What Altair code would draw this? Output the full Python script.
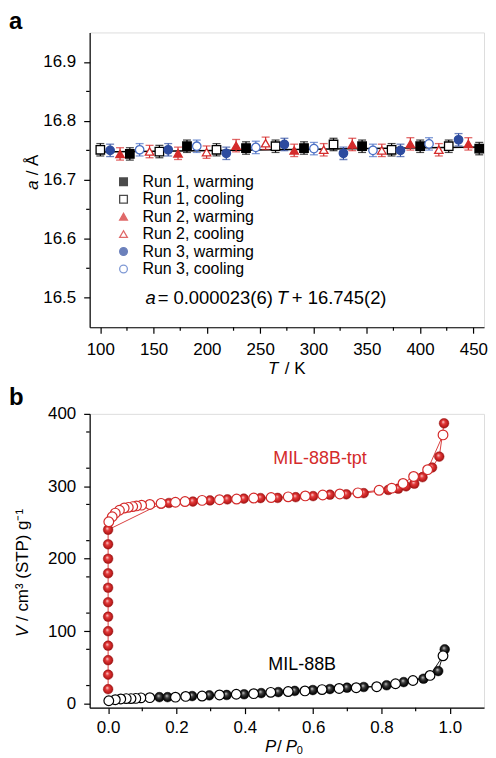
import altair as alt
import pandas as pd

FONT = "Liberation Sans"
RED = "#d42b2b"
BLUE = "#2d4b9f"
BLUE2 = "#4a6fc4"

# ---------------- panel a data ----------------
series_names = ["Run 1, warming", "Run 1, cooling", "Run 2, warming",
                "Run 2, cooling", "Run 3, warming", "Run  3, cooling"]
series_shapes = ["square", "square", "triangle-up", "triangle-up", "circle", "circle"]
series_strokes = ["black", "black", RED, RED, BLUE, BLUE2]
series_fills = ["black", "white", RED, "white", BLUE, "white"]

r1w_T = [127.7, 181.3, 236.7, 291.1, 345.6, 400.1, 455.5]
r1w_a = [16.744, 16.757, 16.754, 16.754, 16.757, 16.757, 16.753]
r1c_T = [100.0, 155.4, 209.0, 264.4, 318.8, 373.3, 426.9]
r1c_a = [16.751, 16.748, 16.751, 16.757, 16.760, 16.751, 16.757]
r2w_T = [118.5, 172.9, 227.4, 281.9, 336.4, 390.9, 445.3]
r2w_a = [16.744, 16.745, 16.758, 16.750, 16.760, 16.761, 16.761]
r2c_T = [146.2, 199.7, 255.1, 309.6, 364.1, 417.6]
r2c_a = [16.748, 16.747, 16.762, 16.751, 16.750, 16.751]
r3w_T = [109.2, 163.7, 218.2, 272.7, 328.1, 381.6, 436.1]
r3w_a = [16.750, 16.751, 16.745, 16.760, 16.745, 16.750, 16.768]
r3c_T = [136.9, 190.5, 245.9, 300.4, 355.8, 408.4]
r3c_a = [16.751, 16.757, 16.755, 16.753, 16.750, 16.761]
a_err = 0.0105

fit_T = [96, 460]
fit_a = [16.7472, 16.7556]

a_xticks = [100, 150, 200, 250, 300, 350, 400, 450]
a_xminor = [125, 175, 225, 275, 325, 375, 425]
a_yticks = [16.5, 16.6, 16.7, 16.8, 16.9]
a_yminor = [16.55, 16.65, 16.75, 16.85]

eq_parts = ["a", "= 0.000023(6)", "T", "+ 16.745(2)"]
eq_T = [142.3, 153.8, 265.6, 279.7]
eq_a = [16.5, 16.5, 16.5, 16.5]
eq_italic = [True, False, True, False]

# ---------------- panel b data ----------------
tpt_ads_P = [0, 0, 0, 0, 0, 0, 0, 0, 0, 0, 0, 0,
             0.155, 0.178, 0.248, 0.298, 0.349, 0.397, 0.446, 0.496, 0.549, 0.600,
             0.649, 0.697, 0.748, 0.820, 0.849, 0.872, 0.896, 0.920, 0.948, 0.969, 0.983]
tpt_ads_V = [20, 40, 60, 80, 100, 120, 140, 160, 180, 200, 220, 240,
             276, 277, 279, 280.5, 282, 283, 283.8, 284, 285, 286.5,
             288.4, 289, 290.6, 295, 296.7, 300, 303.6, 312.6, 326, 341, 387]
tpt_des_P = [0.980, 0.935, 0.894, 0.863, 0.830, 0.793, 0.731, 0.678, 0.628, 0.577,
             0.527, 0.477, 0.426, 0.376, 0.326, 0.275, 0.225, 0.197, 0.155, 0.122,
             0.098, 0.083, 0.072, 0.059, 0.047, 0.033, 0.021, 0.012, 0.002]
tpt_des_V = [371, 323, 313.6, 304, 297.5, 294.5, 291, 289.5, 288, 286.8,
             285.5, 284.5, 283.8, 282.4, 281.5, 280.6, 279, 278, 276.5, 275,
             274, 273, 272, 271, 270, 267, 263, 258, 251]
b88_ads_P = [0.150, 0.174, 0.246, 0.296, 0.347, 0.398, 0.448, 0.498, 0.546, 0.599,
             0.649, 0.699, 0.748, 0.815, 0.865, 0.923, 0.966, 0.985]
b88_ads_V = [9, 9, 10.5, 11.5, 12, 13, 14.6, 16, 17.6, 18.8,
             20.2, 22, 23, 25.4, 29.8, 34.4, 45, 75]
b88_des_P = [0.980, 0.942, 0.892, 0.841, 0.786, 0.726, 0.676, 0.626, 0.576, 0.527,
             0.476, 0.426, 0.375, 0.326, 0.275, 0.227, 0.197, 0.122, 0.096, 0.081,
             0.067, 0.053, 0.037, 0.021, 0.002]
b88_des_V = [66, 39, 32, 27.5, 23.4, 22, 21, 19.4, 17.6, 16.7,
             15.6, 13.8, 13, 12, 10.5, 10, 9, 8.3, 8, 7.3,
             7, 7, 6.5, 5.5, 4]

b_xticks = [0.0, 0.2, 0.4, 0.6, 0.8, 1.0]
b_xminor = [0.1, 0.3, 0.5, 0.7, 0.9]
b_yticks = [0, 50, 100, 150, 200, 250, 300, 350, 400]
b_yminor = [25, 75, 125, 175, 225, 275, 325, 375]

lab_text = ["MIL-88B-tpt", "MIL-88B"]
lab_P = [0.62, 0.568]
lab_V = [337, 53.6]
lab_col = [RED, "black"]

# axis-title pieces (text, italic, font size)
ta_x_parts = [("T", True, 17), ("/ K", False, 17)]
ta_y_parts = [("a", True, 17), ("/ Å", False, 17)]
tb_x_parts = [("P", True, 17), ("/", False, 17), ("P", True, 17), ("0", False, 11)]
tb_y_parts = [("V", True, 17), ("/ cm³ (STP) g⁻¹", False, 17)]

# ---------------- build tables ----------------
rows = []
err_col = {"Run 1, warming": "black", "Run 1, cooling": "black",
           "Run 2, warming": RED, "Run 2, cooling": RED,
           "Run 3, warming": BLUE, "Run  3, cooling": BLUE2}
for name, Ts, As in zip(series_names,
                        [r1w_T, r1c_T, r2w_T, r2c_T, r3w_T, r3c_T],
                        [r1w_a, r1c_a, r2w_a, r2c_a, r3w_a, r3c_a]):
    for t, a in zip(Ts, As):
        rows.append({"T": t, "a": a, "series": name, "lo": a - a_err,
                     "hi": a + a_err, "ecol": err_col[name]})
dfa = pd.DataFrame(rows)

W = 396
HA = 296
HB = 295

xa = alt.Scale(domain=[90, 460], nice=False, zero=False)
ya = alt.Scale(domain=[16.45, 16.95], nice=False, zero=False)

axis_common = dict(grid=False, domainColor="black", tickColor="black", domainWidth=1.2,
                   tickWidth=1.2, tickSize=6, labelFontSize=17, labelColor="black",
                   labelFont=FONT, title=None)

xa_axis = alt.Axis(values=a_xticks, labelPadding=8, **axis_common)
ya_axis = alt.Axis(values=a_yticks, labelPadding=8, format=".1f", **axis_common)


def title_piece(text, italic, size, x, y, angle=0, dy=0):
    kw = dict(align="left", baseline="middle", fontSize=size, font=FONT, color="black",
              fontStyle="italic" if italic else "normal", dy=dy)
    if angle:
        kw["angle"] = angle
    return alt.Chart(pd.DataFrame({"t": [text]})).mark_text(**kw).encode(
        text="t:N", x=alt.value(x), y=alt.value(y))


base_a = alt.Chart(dfa)

fit_line = alt.Chart(pd.DataFrame({"T": fit_T, "a": fit_a})).mark_line(
    color="black", strokeWidth=1.4).encode(
    x=alt.X("T:Q", scale=xa, axis=xa_axis),
    y=alt.Y("a:Q", scale=ya, axis=ya_axis))

err_rule = base_a.mark_rule(strokeWidth=1.2).encode(
    x=alt.X("T:Q", scale=xa), y=alt.Y("lo:Q", scale=ya), y2="hi:Q",
    color=alt.Color("ecol:N", scale=None))
cap_lo = base_a.mark_tick(orient="horizontal", size=8, thickness=1.3).encode(
    x=alt.X("T:Q", scale=xa), y=alt.Y("lo:Q", scale=ya),
    color=alt.Color("ecol:N", scale=None))
cap_hi = base_a.mark_tick(orient="horizontal", size=8, thickness=1.3).encode(
    x=alt.X("T:Q", scale=xa), y=alt.Y("hi:Q", scale=ya),
    color=alt.Color("ecol:N", scale=None))

leg = alt.Legend(title=None, orient="none", legendX=26, legendY=142, labelFontSize=16,
                 labelFont=FONT, labelColor="black", symbolSize=60, symbolStrokeWidth=1.3,
                 labelOffset=11, rowPadding=1.5, padding=0, symbolOpacity=1)

pts_a = base_a.mark_point(filled=False, size=72, strokeWidth=1.3, opacity=1).encode(
    x=alt.X("T:Q", scale=xa), y=alt.Y("a:Q", scale=ya),
    shape=alt.Shape("series:N", scale=alt.Scale(domain=series_names, range=series_shapes), legend=leg),
    color=alt.Color("series:N", scale=alt.Scale(domain=series_names, range=series_strokes), legend=leg),
    fill=alt.Fill("series:N", scale=alt.Scale(domain=series_names, range=series_fills), legend=leg))

minor_ax = alt.Chart(pd.DataFrame({"m": a_xminor})).mark_rule(color="black", strokeWidth=1.2).encode(
    x=alt.X("m:Q", scale=xa), y=alt.value(HA), y2=alt.value(HA + 3.5))
minor_ay = alt.Chart(pd.DataFrame({"m": a_yminor})).mark_rule(color="black", strokeWidth=1.2).encode(
    y=alt.Y("m:Q", scale=ya), x=alt.value(0), x2=alt.value(-3.5))

dfeq = pd.DataFrame({"txt": eq_parts, "T": eq_T, "a": eq_a, "it": eq_italic})
eq_it = alt.Chart(dfeq).transform_filter("datum.it").mark_text(
    align="left", baseline="middle", fontSize=18.5, fontStyle="italic", font=FONT, color="black").encode(
    x=alt.X("T:Q", scale=xa), y=alt.Y("a:Q", scale=ya), text="txt:N")
eq_nm = alt.Chart(dfeq).transform_filter("!datum.it").mark_text(
    align="left", baseline="middle", fontSize=18.5, font=FONT, color="black").encode(
    x=alt.X("T:Q", scale=xa), y=alt.Y("a:Q", scale=ya), text="txt:N")

lab_a = alt.Chart(pd.DataFrame({"t": ["a"]})).mark_text(
    align="left", baseline="top", fontSize=24, fontWeight="bold", font=FONT, color="black").encode(
    text="t:N", x=alt.value(-81), y=alt.value(-22))

# axis titles built from pieces
ta_title = [
    title_piece(ta_x_parts[0][0], ta_x_parts[0][1], ta_x_parts[0][2], 179, HA + 42),
    title_piece(ta_x_parts[1][0], ta_x_parts[1][1], ta_x_parts[1][2], 196, HA + 42),
    title_piece(ta_y_parts[0][0], ta_y_parts[0][1], ta_y_parts[0][2], -57, 158, angle=270),
    title_piece(ta_y_parts[1][0], ta_y_parts[1][1], ta_y_parts[1][2], -57, 143.5, angle=270),
]

panel_a = alt.layer(fit_line, minor_ax, minor_ay, err_rule, cap_lo, cap_hi, pts_a,
                    eq_it, eq_nm, lab_a, *ta_title).properties(width=W, height=HA)

# ---------------- panel b ----------------
xb = alt.Scale(domain=[-0.054, 1.1], nice=False, zero=False)
yb = alt.Scale(domain=[-5.5, 400], nice=False, zero=False)
xb_axis = alt.Axis(values=b_xticks, format=".1f", labelPadding=6, **axis_common)
yb_axis = alt.Axis(values=b_yticks, labelPadding=8, **axis_common)


def mk(P, V):
    return pd.DataFrame({"P": P, "V": V, "i": list(range(len(P)))})


d_ta = mk(tpt_ads_P, tpt_ads_V)
d_td = mk(tpt_des_P, tpt_des_V)
d_ba = mk(b88_ads_P, b88_ads_V)
d_bd = mk(b88_des_P, b88_des_V)


def line(d, col, first=False):
    if first:
        x = alt.X("P:Q", scale=xb, axis=xb_axis)
        y = alt.Y("V:Q", scale=yb, axis=yb_axis)
    else:
        x = alt.X("P:Q", scale=xb)
        y = alt.Y("V:Q", scale=yb)
    return alt.Chart(d).mark_line(color=col, strokeWidth=0.9).encode(x=x, y=y, order="i:Q")


red_grad = alt.RadialGradient(
    gradient="radial",
    stops=[alt.GradientStop(color="#ffe0e0", offset=0.0),
           alt.GradientStop(color="#e23a3a", offset=0.35),
           alt.GradientStop(color="#c42020", offset=0.7),
           alt.GradientStop(color="#8c1010", offset=1.0)],
    x1=0.4, y1=0.35, r1=0.0, x2=0.5, y2=0.5, r2=0.55)
blk_grad = alt.RadialGradient(
    gradient="radial",
    stops=[alt.GradientStop(color="#d8d8d8", offset=0.0),
           alt.GradientStop(color="#404040", offset=0.35),
           alt.GradientStop(color="#101010", offset=0.7),
           alt.GradientStop(color="#000000", offset=1.0)],
    x1=0.4, y1=0.35, r1=0.0, x2=0.5, y2=0.5, r2=0.55)


def balls(d, grad, col):
    return alt.Chart(d).mark_point(shape="circle", size=95, fill=grad, fillOpacity=1,
                                   stroke=col, strokeWidth=0.5, opacity=1).encode(
        x=alt.X("P:Q", scale=xb), y=alt.Y("V:Q", scale=yb))


def opens(d, col):
    return alt.Chart(d).mark_point(shape="circle", size=95, fill="white", fillOpacity=1,
                                   stroke=col, strokeWidth=1.2, opacity=1).encode(
        x=alt.X("P:Q", scale=xb), y=alt.Y("V:Q", scale=yb))


minor_bx = alt.Chart(pd.DataFrame({"m": b_xminor})).mark_rule(color="black", strokeWidth=1.2).encode(
    x=alt.X("m:Q", scale=xb), y=alt.value(HB), y2=alt.value(HB + 3.5))
minor_by = alt.Chart(pd.DataFrame({"m": b_yminor})).mark_rule(color="black", strokeWidth=1.2).encode(
    y=alt.Y("m:Q", scale=yb), x=alt.value(0), x2=alt.value(-3.5))

labs = alt.Chart(pd.DataFrame({"t": lab_text, "P": lab_P, "V": lab_V, "c": lab_col})).mark_text(
    fontSize=18, font=FONT, align="center", baseline="middle").encode(
    x=alt.X("P:Q", scale=xb), y=alt.Y("V:Q", scale=yb), text="t:N",
    color=alt.Color("c:N", scale=None))

lab_b = alt.Chart(pd.DataFrame({"t": ["b"]})).mark_text(
    align="left", baseline="top", fontSize=24, fontWeight="bold", font=FONT, color="black").encode(
    text="t:N", x=alt.value(-81), y=alt.value(-28))

tb_title = [
    title_piece(tb_x_parts[0][0], tb_x_parts[0][1], tb_x_parts[0][2], 176, HB + 40),
    title_piece(tb_x_parts[1][0], tb_x_parts[1][1], tb_x_parts[1][2], 188, HB + 40),
    title_piece(tb_x_parts[2][0], tb_x_parts[2][1], tb_x_parts[2][2], 197, HB + 40),
    title_piece(tb_x_parts[3][0], tb_x_parts[3][1], tb_x_parts[3][2], 208, HB + 44),
    title_piece(tb_y_parts[0][0], tb_y_parts[0][1], tb_y_parts[0][2], -67, 224, angle=270),
    title_piece(tb_y_parts[1][0], tb_y_parts[1][1], tb_y_parts[1][2], -67, 208, angle=270),
]

panel_b = alt.layer(line(d_ta, RED, True), line(d_td, RED), line(d_ba, "black"), line(d_bd, "black"),
                    minor_bx, minor_by,
                    balls(d_ta, red_grad, "#a01515"), balls(d_ba, blk_grad, "black"),
                    opens(d_td, RED), opens(d_bd, "black"),
                    labs, lab_b, *tb_title).properties(width=W, height=HB)

chart = alt.vconcat(panel_a, panel_b, spacing=7).properties(
    padding={"left": 0, "top": 0, "right": 0, "bottom": 0}
).configure_view(stroke=None).configure(font=FONT)

chart.save("out.html", embed_options={"renderer": "svg", "actions": False})
